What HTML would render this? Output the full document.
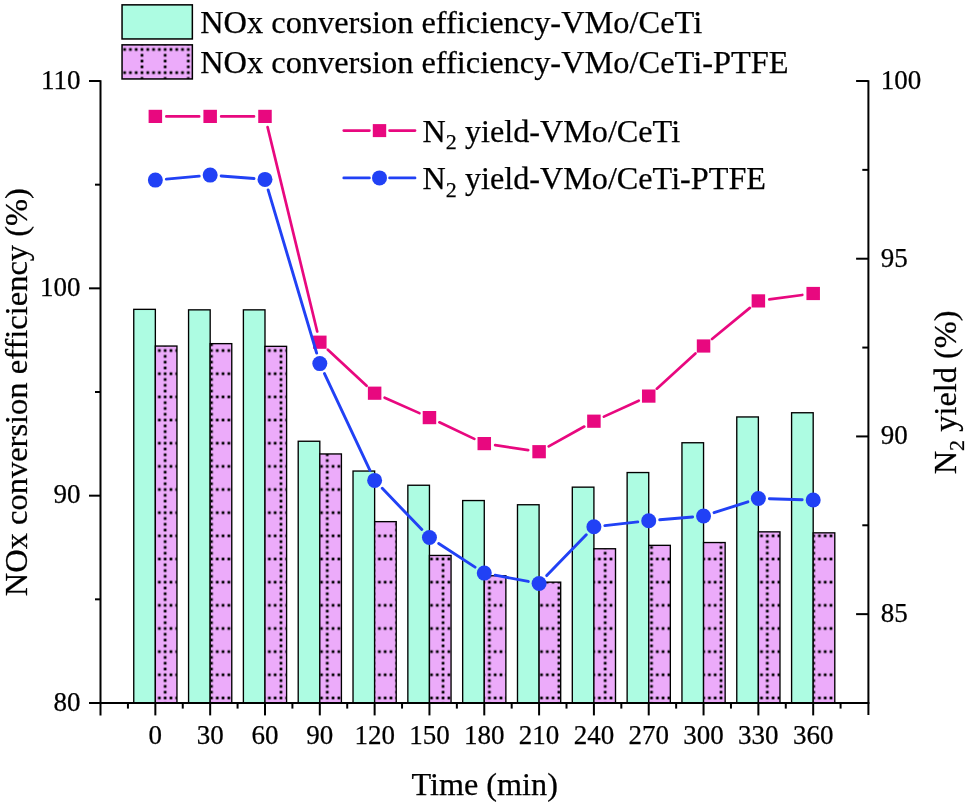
<!DOCTYPE html>
<html><head><meta charset="utf-8"><style>
html,body{margin:0;padding:0;background:#fff;width:968px;height:806px;overflow:hidden}
svg{display:block}
text{font-family:"Liberation Serif",serif;fill:#000;stroke:#000;stroke-width:0.25px}
svg{will-change:transform}
</style></head><body>
<svg width="968" height="806" viewBox="0 0 968 806">
<defs>
<pattern id="dots" patternUnits="userSpaceOnUse" x="139.10" y="46.60" width="23.16" height="23.16">

<rect x="1.54" y="1.54" width="2.7" height="2.7" fill="#000"/>
<rect x="7.34" y="1.54" width="2.7" height="2.7" fill="#000"/>
<rect x="13.12" y="1.54" width="2.7" height="2.7" fill="#000"/>
<rect x="18.91" y="1.54" width="2.7" height="2.7" fill="#000"/>
<rect x="1.54" y="7.34" width="2.7" height="2.7" fill="#000"/>
<rect x="1.54" y="13.12" width="2.7" height="2.7" fill="#000"/>
<rect x="1.54" y="18.91" width="2.7" height="2.7" fill="#000"/>
</pattern></defs>
<rect width="968" height="806" fill="#fff"/>
<rect x="133.75" y="309.35" width="21.6" height="393.65" fill="#ADFCE2" stroke="#000" stroke-width="1.35"/>
<rect x="155.35" y="346.05" width="21.6" height="356.95" fill="#ECABFA"/>
<rect x="155.35" y="346.05" width="21.6" height="356.95" fill="url(#dots)" stroke="#000" stroke-width="1.35"/>
<rect x="188.57" y="309.85" width="21.6" height="393.15" fill="#ADFCE2" stroke="#000" stroke-width="1.35"/>
<rect x="210.17" y="343.65" width="21.6" height="359.35" fill="#ECABFA"/>
<rect x="210.17" y="343.65" width="21.6" height="359.35" fill="url(#dots)" stroke="#000" stroke-width="1.35"/>
<rect x="243.39" y="309.85" width="21.6" height="393.15" fill="#ADFCE2" stroke="#000" stroke-width="1.35"/>
<rect x="264.99" y="346.35" width="21.6" height="356.65" fill="#ECABFA"/>
<rect x="264.99" y="346.35" width="21.6" height="356.65" fill="url(#dots)" stroke="#000" stroke-width="1.35"/>
<rect x="298.21" y="441.25" width="21.6" height="261.75" fill="#ADFCE2" stroke="#000" stroke-width="1.35"/>
<rect x="319.81" y="453.95" width="21.6" height="249.05" fill="#ECABFA"/>
<rect x="319.81" y="453.95" width="21.6" height="249.05" fill="url(#dots)" stroke="#000" stroke-width="1.35"/>
<rect x="353.03" y="471.05" width="21.6" height="231.95" fill="#ADFCE2" stroke="#000" stroke-width="1.35"/>
<rect x="374.63" y="521.65" width="21.6" height="181.35" fill="#ECABFA"/>
<rect x="374.63" y="521.65" width="21.6" height="181.35" fill="url(#dots)" stroke="#000" stroke-width="1.35"/>
<rect x="407.85" y="485.25" width="21.6" height="217.75" fill="#ADFCE2" stroke="#000" stroke-width="1.35"/>
<rect x="429.45" y="555.45" width="21.6" height="147.55" fill="#ECABFA"/>
<rect x="429.45" y="555.45" width="21.6" height="147.55" fill="url(#dots)" stroke="#000" stroke-width="1.35"/>
<rect x="462.67" y="500.55" width="21.6" height="202.45" fill="#ADFCE2" stroke="#000" stroke-width="1.35"/>
<rect x="484.27" y="575.75" width="21.6" height="127.25" fill="#ECABFA"/>
<rect x="484.27" y="575.75" width="21.6" height="127.25" fill="url(#dots)" stroke="#000" stroke-width="1.35"/>
<rect x="517.49" y="504.75" width="21.6" height="198.25" fill="#ADFCE2" stroke="#000" stroke-width="1.35"/>
<rect x="539.09" y="582.15" width="21.6" height="120.85" fill="#ECABFA"/>
<rect x="539.09" y="582.15" width="21.6" height="120.85" fill="url(#dots)" stroke="#000" stroke-width="1.35"/>
<rect x="572.31" y="487.15" width="21.6" height="215.85" fill="#ADFCE2" stroke="#000" stroke-width="1.35"/>
<rect x="593.91" y="548.75" width="21.6" height="154.25" fill="#ECABFA"/>
<rect x="593.91" y="548.75" width="21.6" height="154.25" fill="url(#dots)" stroke="#000" stroke-width="1.35"/>
<rect x="627.13" y="472.55" width="21.6" height="230.45" fill="#ADFCE2" stroke="#000" stroke-width="1.35"/>
<rect x="648.73" y="545.35" width="21.6" height="157.65" fill="#ECABFA"/>
<rect x="648.73" y="545.35" width="21.6" height="157.65" fill="url(#dots)" stroke="#000" stroke-width="1.35"/>
<rect x="681.95" y="442.75" width="21.6" height="260.25" fill="#ADFCE2" stroke="#000" stroke-width="1.35"/>
<rect x="703.55" y="542.55" width="21.6" height="160.45" fill="#ECABFA"/>
<rect x="703.55" y="542.55" width="21.6" height="160.45" fill="url(#dots)" stroke="#000" stroke-width="1.35"/>
<rect x="736.77" y="416.95" width="21.6" height="286.05" fill="#ADFCE2" stroke="#000" stroke-width="1.35"/>
<rect x="758.37" y="531.85" width="21.6" height="171.15" fill="#ECABFA"/>
<rect x="758.37" y="531.85" width="21.6" height="171.15" fill="url(#dots)" stroke="#000" stroke-width="1.35"/>
<rect x="791.59" y="412.75" width="21.6" height="290.25" fill="#ADFCE2" stroke="#000" stroke-width="1.35"/>
<rect x="813.19" y="532.85" width="21.6" height="170.15" fill="#ECABFA"/>
<rect x="813.19" y="532.85" width="21.6" height="170.15" fill="url(#dots)" stroke="#000" stroke-width="1.35"/>
<g stroke="#000" stroke-width="2.0" fill="none" stroke-linecap="butt">
<line x1="100.5" y1="80.2" x2="100.5" y2="715.4"/>
<line x1="868.4" y1="80.2" x2="868.4" y2="715.0"/>
<line x1="89.0" y1="703.0" x2="869.4" y2="703.0"/>
<line x1="89.0" y1="703.00" x2="100.5" y2="703.00"/>
<line x1="89.0" y1="495.67" x2="100.5" y2="495.67"/>
<line x1="89.0" y1="288.34" x2="100.5" y2="288.34"/>
<line x1="89.0" y1="81.01" x2="100.5" y2="81.01"/>
<line x1="95.0" y1="599.34" x2="100.5" y2="599.34"/>
<line x1="95.0" y1="392.00" x2="100.5" y2="392.00"/>
<line x1="95.0" y1="184.67" x2="100.5" y2="184.67"/>
<line x1="856.1" y1="614.14" x2="868.4" y2="614.14"/>
<line x1="856.1" y1="436.43" x2="868.4" y2="436.43"/>
<line x1="856.1" y1="258.71" x2="868.4" y2="258.71"/>
<line x1="856.1" y1="81.00" x2="868.4" y2="81.00"/>
<line x1="862.3" y1="525.28" x2="868.4" y2="525.28"/>
<line x1="862.3" y1="347.57" x2="868.4" y2="347.57"/>
<line x1="862.3" y1="169.86" x2="868.4" y2="169.86"/>
<line x1="155.35" y1="703.0" x2="155.35" y2="715.4"/>
<line x1="210.17" y1="703.0" x2="210.17" y2="715.4"/>
<line x1="264.99" y1="703.0" x2="264.99" y2="715.4"/>
<line x1="319.81" y1="703.0" x2="319.81" y2="715.4"/>
<line x1="374.63" y1="703.0" x2="374.63" y2="715.4"/>
<line x1="429.45" y1="703.0" x2="429.45" y2="715.4"/>
<line x1="484.27" y1="703.0" x2="484.27" y2="715.4"/>
<line x1="539.09" y1="703.0" x2="539.09" y2="715.4"/>
<line x1="593.91" y1="703.0" x2="593.91" y2="715.4"/>
<line x1="648.73" y1="703.0" x2="648.73" y2="715.4"/>
<line x1="703.55" y1="703.0" x2="703.55" y2="715.4"/>
<line x1="758.37" y1="703.0" x2="758.37" y2="715.4"/>
<line x1="813.19" y1="703.0" x2="813.19" y2="715.4"/>
<line x1="127.94" y1="703.0" x2="127.94" y2="708.6"/>
<line x1="182.76" y1="703.0" x2="182.76" y2="708.6"/>
<line x1="237.58" y1="703.0" x2="237.58" y2="708.6"/>
<line x1="292.40" y1="703.0" x2="292.40" y2="708.6"/>
<line x1="347.22" y1="703.0" x2="347.22" y2="708.6"/>
<line x1="402.04" y1="703.0" x2="402.04" y2="708.6"/>
<line x1="456.86" y1="703.0" x2="456.86" y2="708.6"/>
<line x1="511.68" y1="703.0" x2="511.68" y2="708.6"/>
<line x1="566.50" y1="703.0" x2="566.50" y2="708.6"/>
<line x1="621.32" y1="703.0" x2="621.32" y2="708.6"/>
<line x1="676.14" y1="703.0" x2="676.14" y2="708.6"/>
<line x1="730.96" y1="703.0" x2="730.96" y2="708.6"/>
<line x1="785.78" y1="703.0" x2="785.78" y2="708.6"/>
<line x1="840.60" y1="703.0" x2="840.60" y2="708.6"/>
</g>
<path d="M166.35 116.40L199.17 116.40M221.17 116.40L253.99 116.40M267.59 127.09L317.21 331.51M327.86 349.69L366.58 385.71M384.68 397.67L419.40 413.13M439.39 422.31L474.33 438.89M495.15 445.21L528.21 450.09M548.70 446.35L584.30 426.55M603.91 416.62L638.73 400.68M656.85 388.68L695.43 353.42M712.04 339.01L749.88 307.89M769.27 299.43L802.29 294.97" stroke="#E8087F" stroke-width="2.7" stroke-linecap="round" fill="none"/><rect x="148.60" y="109.80" width="13.5" height="13.2" fill="#E8087F"/><rect x="203.42" y="109.80" width="13.5" height="13.2" fill="#E8087F"/><rect x="258.24" y="109.80" width="13.5" height="13.2" fill="#E8087F"/><rect x="313.06" y="335.60" width="13.5" height="13.2" fill="#E8087F"/><rect x="367.88" y="386.60" width="13.5" height="13.2" fill="#E8087F"/><rect x="422.70" y="411.00" width="13.5" height="13.2" fill="#E8087F"/><rect x="477.52" y="437.00" width="13.5" height="13.2" fill="#E8087F"/><rect x="532.34" y="445.10" width="13.5" height="13.2" fill="#E8087F"/><rect x="587.16" y="414.60" width="13.5" height="13.2" fill="#E8087F"/><rect x="641.98" y="389.50" width="13.5" height="13.2" fill="#E8087F"/><rect x="696.80" y="339.40" width="13.5" height="13.2" fill="#E8087F"/><rect x="751.62" y="294.30" width="13.5" height="13.2" fill="#E8087F"/><rect x="806.44" y="286.90" width="13.5" height="13.2" fill="#E8087F"/>
<path d="M166.30 179.10L199.22 176.10M221.14 175.96L254.02 178.54M268.13 189.94L316.67 353.06M324.48 373.56L369.96 470.44M382.25 488.33L421.83 529.57M438.68 543.49L475.04 567.11M495.08 575.15L528.28 581.45M546.74 575.59L586.26 534.71M604.84 525.58L637.80 521.92M659.69 519.76L692.59 516.94M714.03 512.65L747.89 501.85M769.37 498.80L802.19 499.70" stroke="#2141F5" stroke-width="2.9" stroke-linecap="round" fill="none"/><circle cx="155.35" cy="180.10" r="7.5" fill="#2141F5"/><circle cx="210.17" cy="175.10" r="7.5" fill="#2141F5"/><circle cx="264.99" cy="179.40" r="7.5" fill="#2141F5"/><circle cx="319.81" cy="363.60" r="7.5" fill="#2141F5"/><circle cx="374.63" cy="480.40" r="7.5" fill="#2141F5"/><circle cx="429.45" cy="537.50" r="7.5" fill="#2141F5"/><circle cx="484.27" cy="573.10" r="7.5" fill="#2141F5"/><circle cx="539.09" cy="583.50" r="7.5" fill="#2141F5"/><circle cx="593.91" cy="526.80" r="7.5" fill="#2141F5"/><circle cx="648.73" cy="520.70" r="7.5" fill="#2141F5"/><circle cx="703.55" cy="516.00" r="7.5" fill="#2141F5"/><circle cx="758.37" cy="498.50" r="7.5" fill="#2141F5"/><circle cx="813.19" cy="500.00" r="7.5" fill="#2141F5"/>
<text x="80.5" y="88.81" font-size="27" text-anchor="end">110</text>
<text x="80.5" y="296.14" font-size="27" text-anchor="end">100</text>
<text x="80.5" y="503.47" font-size="27" text-anchor="end">90</text>
<text x="80.5" y="710.80" font-size="27" text-anchor="end">80</text>
<text x="880.8" y="88.80" font-size="27">100</text>
<text x="880.8" y="266.51" font-size="27">95</text>
<text x="880.8" y="444.23" font-size="27">90</text>
<text x="880.8" y="621.94" font-size="27">85</text>
<text x="155.35" y="743.8" font-size="27" text-anchor="middle">0</text>
<text x="210.17" y="743.8" font-size="27" text-anchor="middle">30</text>
<text x="264.99" y="743.8" font-size="27" text-anchor="middle">60</text>
<text x="319.81" y="743.8" font-size="27" text-anchor="middle">90</text>
<text x="374.63" y="743.8" font-size="27" text-anchor="middle">120</text>
<text x="429.45" y="743.8" font-size="27" text-anchor="middle">150</text>
<text x="484.27" y="743.8" font-size="27" text-anchor="middle">180</text>
<text x="539.09" y="743.8" font-size="27" text-anchor="middle">210</text>
<text x="593.91" y="743.8" font-size="27" text-anchor="middle">240</text>
<text x="648.73" y="743.8" font-size="27" text-anchor="middle">270</text>
<text x="703.55" y="743.8" font-size="27" text-anchor="middle">300</text>
<text x="758.37" y="743.8" font-size="27" text-anchor="middle">330</text>
<text x="813.19" y="743.8" font-size="27" text-anchor="middle">360</text>
<text x="411.5" y="795.2" font-size="32.2">Time (min)</text>
<text transform="translate(27.2,596.3) rotate(-90)" font-size="32.5">NOx conversion efficiency (%)</text>
<text transform="translate(956.2,474.3) rotate(-90)" font-size="32.4">N<tspan font-size="22" dy="7.4">2</tspan><tspan dy="-7.4"> yield (%)</tspan></text>
<rect x="122.05" y="4.85" width="70.3" height="34.1" fill="#ADFCE2" stroke="#000" stroke-width="1.5"/>
<rect x="122.05" y="44.85" width="70.3" height="34.1" fill="#ECABFA"/>
<rect x="122.05" y="44.85" width="70.3" height="34.1" fill="url(#dots)" stroke="#000" stroke-width="1.5"/>
<text x="200.2" y="32.75" font-size="32.4">NOx conversion efficiency-VMo/CeTi</text>
<text x="200.2" y="72.5" font-size="32.4">NOx conversion efficiency-VMo/CeTi-PTFE</text>
<path d="M343.75 130.6H369.45M389.55 130.6H415.05" stroke="#E8087F" stroke-width="2.7" stroke-linecap="round" fill="none"/>
<rect x="372.8" y="124.10" width="13.4" height="13" fill="#E8087F"/>
<text x="422.6" y="142.00" font-size="32.2">N<tspan font-size="22" dy="7.4">2</tspan><tspan dy="-7.4"> yield-VMo/CeTi</tspan></text>
<path d="M343.75 177.9H369.45M389.55 177.9H415.05" stroke="#2141F5" stroke-width="2.7" stroke-linecap="round" fill="none"/>
<circle cx="379.5" cy="177.90" r="7.5" fill="#2141F5"/>
<text x="422.6" y="189.30" font-size="32.2">N<tspan font-size="22" dy="7.4">2</tspan><tspan dy="-7.4"> yield-VMo/CeTi-PTFE</tspan></text>
</svg></body></html>
